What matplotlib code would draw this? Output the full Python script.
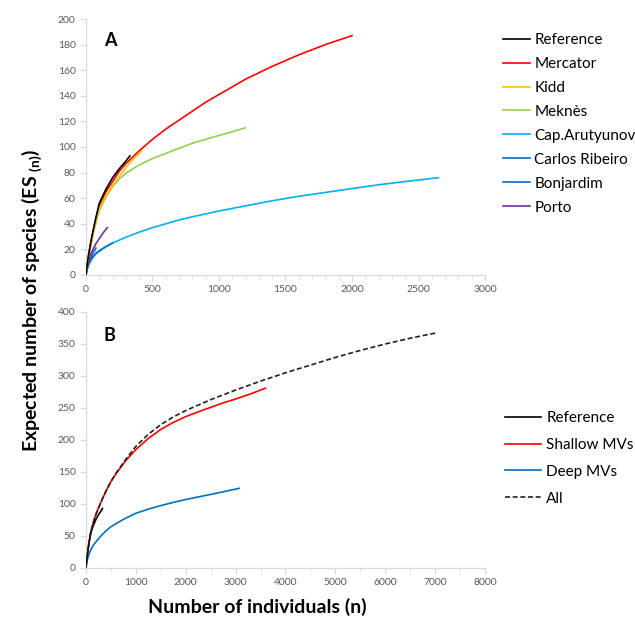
import matplotlib
matplotlib.use("Agg")
import matplotlib.pyplot as plt
from matplotlib.ticker import MultipleLocator

plt.rcParams['font.family'] = ['Lato', 'DejaVu Sans']
plt.rcParams['mathtext.fontset'] = 'custom'
plt.rcParams['mathtext.rm'] = 'Lato'
plt.rcParams['mathtext.bf'] = 'Lato:bold'

# Panel A - rarefaction curves per site
ref_n = [0, 5, 10, 20, 35, 50, 75, 100, 150, 200, 250, 300, 330]
ref_es = [0, 4.5, 8.7, 16, 25, 33, 45, 56, 67, 76, 83, 89, 93]

mercator_n = [0, 5, 10, 20, 35, 50, 75, 100, 150, 200, 250, 300, 400, 500, 600, 700, 800, 900,
              1000, 1200, 1400, 1600, 1800, 2000]
mercator_es = [0, 4.5, 8.5, 15.5, 24, 32, 44, 54, 65, 73, 81, 87, 97, 106, 114, 121, 128, 135,
               141, 153, 163, 172, 180, 187]

kidd_n = [0, 5, 10, 20, 35, 50, 75, 100, 150, 200, 250, 300, 350, 418]
kidd_es = [0, 4.4, 8.3, 15, 23, 31, 42, 52, 62, 70, 77, 84, 90, 97]

meknes_n = [0, 5, 10, 20, 35, 50, 75, 100, 150, 200, 250, 300, 400, 500, 600, 700, 800, 900,
            1000, 1100, 1200]
meknes_es = [0, 4.3, 8, 14, 22, 30, 41, 50, 61, 69, 75, 79.5, 86, 91, 95, 99, 103, 106,
             109, 112, 115]

arutyunov_n = [0, 5, 10, 20, 35, 50, 75, 100, 150, 200, 300, 400, 500, 600, 700, 800, 1000,
               1200, 1400, 1600, 1800, 2000, 2200, 2400, 2650]
arutyunov_es = [0, 2.8, 5, 8, 11, 13.5, 16.5, 18.5, 22, 25, 29.5, 33.5, 37, 40, 43, 45.5, 50,
                54, 58, 61.5, 64.5, 67.5, 70.5, 73, 76]

ribeiro_n = [0, 5, 10, 20, 35, 50, 75, 100, 150, 200]
ribeiro_es = [0, 3, 5.2, 8.3, 11.5, 14, 17, 19, 22.3, 25]

bonjardim_n = [0, 5, 10, 20, 35, 50, 75]
bonjardim_es = [0, 3.5, 6, 9.5, 13, 16.5, 21]

porto_n = [0, 5, 10, 20, 35, 50, 75, 100, 130, 160]
porto_es = [0, 3.8, 7, 11.5, 16, 19.5, 24.5, 28.5, 33, 37]

# Panel B - pooled curves
shallow_n = [0, 5, 10, 20, 35, 50, 75, 100, 150, 200, 300, 400, 500, 600, 800, 1000, 1250,
             1500, 1750, 2000, 2250, 2500, 2750, 3000, 3300, 3600]
shallow_es = [0, 4.6, 9, 16.5, 26, 35, 47, 57, 72, 84, 103, 120, 135, 147, 168, 185, 202.5,
              216.5, 227.5, 236.5, 244, 251, 258, 264, 272, 281]

deep_n = [0, 5, 10, 20, 35, 50, 75, 100, 150, 200, 300, 400, 500, 750, 1000, 1250, 1500, 1750,
          2000, 2250, 2500, 2750, 3070]
deep_es = [0, 3.3, 6, 10, 15, 19, 24.5, 29, 36, 41, 50, 58, 64.5, 76, 85.5, 92, 97.5, 102.5,
           107, 111, 115, 119, 124.5]

all_n = [0, 5, 10, 20, 35, 50, 75, 100, 150, 200, 300, 400, 500, 600, 800, 1000, 1250, 1500,
         1750, 2000, 2500, 3000, 3500, 4000, 4500, 5000, 5500, 6000, 6500, 7000]
all_es = [0, 4.6, 9, 16.5, 26, 35, 47, 57, 72, 84, 103, 120, 135, 148, 170, 190, 209, 224,
          236, 246, 263, 278, 292, 305, 317, 329, 340, 350, 359, 367]

GREY = '#595959'
SPINE = '#D9D9D9'
lw = 1.2

fig = plt.figure(figsize=(6.35, 6.23), dpi=100)
axA = fig.add_axes([0.1354, 0.5586, 0.6284, 0.4109])
axB = fig.add_axes([0.1354, 0.0883, 0.6284, 0.4109])

def style(ax):
    for s in ['top', 'right']:
        ax.spines[s].set_visible(False)
    for s in ['left', 'bottom']:
        ax.spines[s].set_color(SPINE)
        ax.spines[s].set_linewidth(0.9)
    ax.tick_params(which='both', colors=SPINE, labelcolor=GREY, labelsize=7.5, direction='out')
    ax.tick_params(which='major', length=4)
    ax.tick_params(which='minor', length=3)
    ax.tick_params(axis='y', which='minor', length=0)

axA.plot(ref_n, ref_es, color='black', lw=lw, label='Reference', zorder=5)
axA.plot(mercator_n, mercator_es, color='#FF0000', lw=lw, label='Mercator', zorder=4)
axA.plot(kidd_n, kidd_es, color='#FFC000', lw=lw, label='Kidd', zorder=4)
axA.plot(meknes_n, meknes_es, color='#92D050', lw=lw, label='Meknès')
axA.plot(arutyunov_n, arutyunov_es, color='#00B0F0', lw=lw, label='Cap.Arutyunov')
axA.plot(ribeiro_n, ribeiro_es, color='#0070C0', lw=lw, label='Carlos Ribeiro')
axA.plot(bonjardim_n, bonjardim_es, color='#0A6CC4', lw=lw, label='Bonjardim')
axA.plot(porto_n, porto_es, color='#7030A0', lw=lw, label='Porto')
axA.set_xlim(0, 3000)
axA.set_ylim(0, 200)
axA.xaxis.set_major_locator(MultipleLocator(500))
axA.xaxis.set_minor_locator(MultipleLocator(100))
axA.yaxis.set_major_locator(MultipleLocator(20))
style(axA)
axA.text(0.045, 0.915, 'A', transform=axA.transAxes, fontsize=13, fontweight='bold', va='center')
axA.legend(loc='upper left', bbox_to_anchor=(0.792, 0.947), bbox_transform=fig.transFigure,
           frameon=False, fontsize=11, handlelength=1.75, handletextpad=0.3,
           labelspacing=0.65, borderaxespad=0, borderpad=0)

axB.plot(ref_n, ref_es, color='black', lw=lw, label='Reference', zorder=5)
axB.plot(shallow_n, shallow_es, color='#FF0000', lw=lw, label='Shallow MVs')
axB.plot(deep_n, deep_es, color='#0070C0', lw=lw, label='Deep MVs')
axB.plot(all_n, all_es, color='#222222', lw=lw, ls=(0, (3, 1.6)), label='All', zorder=6)
axB.set_xlim(0, 8000)
axB.set_ylim(0, 400)
axB.xaxis.set_major_locator(MultipleLocator(1000))
axB.xaxis.set_minor_locator(MultipleLocator(500))
axB.yaxis.set_major_locator(MultipleLocator(50))
style(axB)
axB.text(0.045, 0.91, 'B', transform=axB.transAxes, fontsize=13, fontweight='bold', va='center')
axB.legend(loc='upper left', bbox_to_anchor=(0.795, 0.34), bbox_transform=fig.transFigure,
           frameon=False, fontsize=11, handlelength=2.35, handletextpad=0.37,
           labelspacing=0.84, borderaxespad=0, borderpad=0)

fig.text(0.05, 0.518, 'Expected number of species (ES $_{\\mathbf{(n)}}$)', rotation=90,
         fontsize=14, fontweight='bold', ha='center', va='center')
fig.text(0.405, 0.025, 'Number of individuals (n)', fontsize=14, fontweight='bold',
         ha='center', va='center')

fig.savefig('out.png', dpi=100)
